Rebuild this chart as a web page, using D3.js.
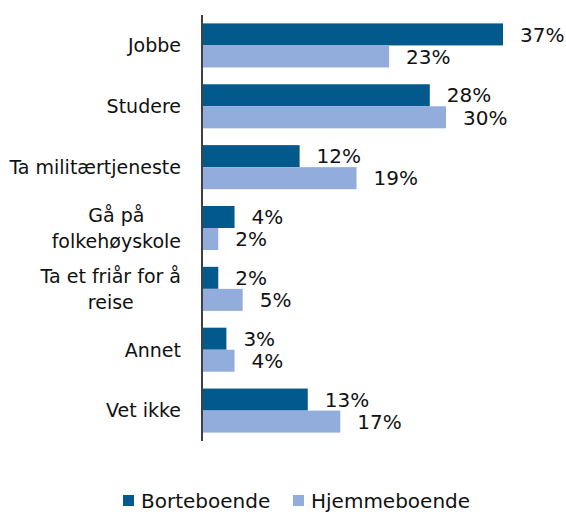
<!DOCTYPE html>
<html><head><meta charset="utf-8">
<script src="https://cdn.jsdelivr.net/npm/d3@7"></script>
<style>body{margin:0;background:#fff}svg{display:block}text{font-family:"DejaVu Sans",sans-serif;fill:#111}</style>
</head><body><svg id="c" width="566" height="514"></svg>
<script>
const categories = [["Jobbe"],["Studere"],["Ta militærtjeneste"],["Gå på","folkehøyskole"],["Ta et friår for å","reise"],["Annet"],["Vet ikke"]];
const seriesNames = ["Borteboende","Hjemmeboende"];
const borteboende = [37,28,12,4,2,3,13];
const hjemmeboende = [23,30,19,2,5,4,17];
const colors = ["#02598c","#92addc"];

const svg = d3.select("#c");
const x0 = 202, plotTop = 15, plotBottom = 441;
const x = d3.scaleLinear().domain([0,37]).range([x0,503]);
const y = d3.scaleBand().domain(d3.range(categories.length)).range([plotTop,plotBottom]).paddingInner(0.276).paddingOuter(0.138);
const sub = d3.scaleBand().domain([0,1]).range([0,y.bandwidth()]);
const series = [borteboende, hjemmeboende];

series.forEach((vals,s)=>{
  const g = svg.append("g");
  g.selectAll("rect").data(vals).join("rect")
    .attr("x", x(0)).attr("y",(d,i)=>y(i)+sub(s))
    .attr("width", d=>x(d)-x(0)).attr("height", sub.bandwidth())
    .attr("fill", colors[s]);
  g.selectAll("text").data(vals).join("text")
    .attr("x", d=>x(d)+17).attr("y",(d,i)=>y(i)+sub(s)+sub.bandwidth()/2)
    .attr("dy","0.36em").attr("font-size",20).text(d=>d+"%");
});

svg.append("line").attr("x1",x0).attr("x2",x0).attr("y1",plotTop).attr("y2",plotBottom)
  .attr("stroke","#404040").attr("stroke-width",2);

const labelRight = 181, lh = 26;
categories.forEach((lines,i)=>{
  const cy = y(i)+y.bandwidth()/2;
  const g = svg.append("g");
  const ts = lines.map((t,k)=>g.append("text").attr("font-size",19).attr("text-anchor","middle")
     .attr("y", cy + (k-(lines.length-1)/2)*lh).attr("dy","0.36em").text(t));
  const w = d3.max(ts, t=>t.node().getComputedTextLength());
  ts.forEach(t=>t.attr("x", labelRight - w/2));
});

const legX = [123,293];
seriesNames.forEach((n,s)=>{
  svg.append("rect").attr("x",legX[s]).attr("y",495).attr("width",11).attr("height",11).attr("fill",colors[s]);
  svg.append("text").attr("x",legX[s]+18).attr("y",500.5).attr("dy","0.36em").attr("font-size",20).text(n);
});
</script></body></html>
